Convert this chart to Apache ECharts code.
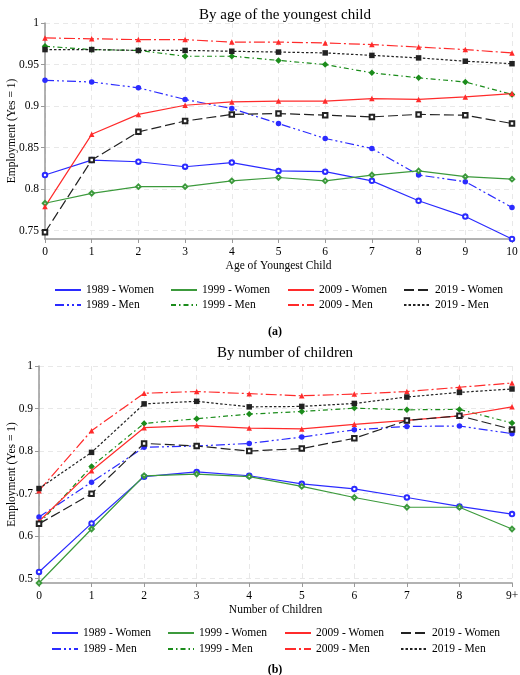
<!DOCTYPE html>
<html>
<head>
<meta charset="utf-8">
<script src="https://cdn.jsdelivr.net/npm/echarts@6/dist/echarts.min.js"></script>
<style>
html, body { margin: 0; padding: 0; background: #fff; }
#chart { width: 520px; height: 675px; }
</style>
</head>
<body>
<div id="chart"></div>
<script>
// categories
const ageCats = ['0', '1', '2', '3', '4', '5', '6', '7', '8', '9', '10'];
const childCats = ['0', '1', '2', '3', '4', '5', '6', '7', '8', '9+'];

// tick labels
const ageTicks = [0.75, 0.8, 0.85, 0.9, 0.95, 1];
const childTicks = [0.5, 0.6, 0.7, 0.8, 0.9, 1];

// (a) by age of the youngest child
const age1989Women = [0.817, 0.835, 0.833, 0.827, 0.832, 0.822, 0.821, 0.810, 0.786, 0.767, 0.740];
const age1989Men   = [0.931, 0.929, 0.922, 0.908, 0.897, 0.879, 0.861, 0.849, 0.817, 0.809, 0.778];
const age1999Women = [0.783, 0.795, 0.803, 0.803, 0.810, 0.814, 0.810, 0.817, 0.822, 0.815, 0.812];
const age1999Men   = [0.972, 0.968, 0.967, 0.960, 0.960, 0.955, 0.950, 0.940, 0.934, 0.929, 0.914];
const age2009Women = [0.779, 0.866, 0.890, 0.901, 0.905, 0.906, 0.906, 0.909, 0.908, 0.911, 0.915];
const age2009Men   = [0.982, 0.981, 0.980, 0.980, 0.977, 0.977, 0.976, 0.974, 0.971, 0.968, 0.964];
const age2019Women = [0.748, 0.835, 0.869, 0.882, 0.890, 0.891, 0.889, 0.887, 0.890, 0.889, 0.879];
const age2019Men   = [0.968, 0.968, 0.967, 0.967, 0.966, 0.965, 0.964, 0.961, 0.958, 0.954, 0.951];

// (b) by number of children
const kids1989Women = [0.516, 0.630, 0.740, 0.751, 0.742, 0.723, 0.711, 0.691, 0.670, 0.652];
const kids1989Men   = [0.645, 0.727, 0.809, 0.812, 0.818, 0.833, 0.850, 0.858, 0.859, 0.841];
const kids1999Women = [0.490, 0.617, 0.742, 0.746, 0.740, 0.717, 0.691, 0.668, 0.668, 0.617];
const kids1999Men   = [0.629, 0.764, 0.865, 0.876, 0.887, 0.893, 0.901, 0.897, 0.898, 0.866];
const kids2009Women = [0.635, 0.754, 0.855, 0.860, 0.854, 0.852, 0.863, 0.872, 0.883, 0.904];
const kids2009Men   = [0.707, 0.848, 0.936, 0.940, 0.935, 0.930, 0.934, 0.940, 0.950, 0.960];
const kids2019Women = [0.629, 0.700, 0.818, 0.812, 0.800, 0.806, 0.830, 0.872, 0.883, 0.851];
const kids2019Men   = [0.712, 0.797, 0.911, 0.917, 0.904, 0.905, 0.912, 0.927, 0.938, 0.946];

const womenNames = ['1989 - Women', '1999 - Women', '2009 - Women', '2019 - Women'];
const menNames = ['1989 - Men', '1999 - Men', '2009 - Men', '2019 - Men'];

const serif = '"Liberation Serif", "Times New Roman", serif';

// look of each line
const looks = {
    '1989 - Women': { color: '#2b2bff', symbol: 'emptyCircle', dash: 'solid' },
    '1989 - Men':   { color: '#2b2bff', symbol: 'circle', dash: [9, 3, 2, 3, 2, 3] },
    '1999 - Women': { color: '#3c9a3c', symbol: 'emptyDiamond', dash: 'solid' },
    '1999 - Men':   { color: '#1b8c1b', symbol: 'diamond', dash: [5, 3, 1.5, 3] },
    '2009 - Women': { color: '#ff2b2b', symbol: 'triangle', dash: 'solid' },
    '2009 - Men':   { color: '#ff2b2b', symbol: 'triangle', dash: [11, 3, 2, 3] },
    '2019 - Women': { color: '#222222', symbol: 'emptyRect', dash: [10, 4] },
    '2019 - Men':   { color: '#222222', symbol: 'rect', dash: [2.5, 2] }
};

function makeSeries(name, data, idx) {
    const l = looks[name];
    const empty = l.symbol.indexOf('empty') === 0;
    return {
        name: name,
        type: 'line',
        xAxisIndex: idx,
        yAxisIndex: idx,
        data: data,
        symbol: l.symbol,
        symbolSize: empty ? 4.5 : (l.symbol === 'diamond' ? 6.5 : 5.5),
        color: l.color,
        lineStyle: { width: 1.2, type: l.dash, color: l.color },
        itemStyle: { color: l.color, borderWidth: 1 },
        animation: false
    };
}

// one legend per entry so the columns line up like a table
function legendGrid(lefts, tops) {
    const out = [];
    [womenNames, menNames].forEach((names, r) => {
        names.forEach((n, c) => {
            out.push({
                data: [n],
                left: lefts[c],
                top: tops[r],
                padding: 0,
                itemWidth: 26,
                itemHeight: 10,
                selectedMode: false,
                itemStyle: { opacity: 0 },
                textStyle: { fontFamily: serif, fontSize: 11.5, color: '#000' }
            });
        });
    });
    return out;
}

function xAxisFor(cats, idx, name) {
    return {
        type: 'category',
        gridIndex: idx,
        data: cats,
        boundaryGap: false,
        name: name,
        nameLocation: 'middle',
        nameGap: 21,
        nameTextStyle: { fontFamily: serif, fontSize: 11.5, color: '#000' },
        axisLine: { lineStyle: { color: '#999', width: 1.5 } },
        axisTick: { show: true, length: 4, lineStyle: { color: '#999' } },
        axisLabel: { fontFamily: serif, fontSize: 11.5, color: '#000', margin: 7 },
        splitLine: { show: true, lineStyle: { color: '#e8e8e8', type: [5, 4] } }
    };
}

function yAxisFor(ticks, idx, min, gap) {
    return {
        type: 'value',
        gridIndex: idx,
        min: min,
        max: 1,
        name: 'Employment (Yes = 1)',
        nameLocation: 'middle',
        nameGap: gap,
        nameMoveOverlap: false,
        nameTextStyle: { fontFamily: serif, fontSize: 11.5, color: '#000' },
        axisLine: { show: true, lineStyle: { color: '#999', width: 1.5 } },
        axisTick: { show: true, length: 4, lineStyle: { color: '#999' }, customValues: ticks },
        axisLabel: { fontFamily: serif, fontSize: 11.5, color: '#000', margin: 6, customValues: ticks },
        splitLine: { show: true, lineStyle: { color: '#e8e8e8', type: [5, 4] } }
    };
}

const chart = echarts.init(document.getElementById('chart'));

const option = {
    backgroundColor: '#fff',
    title: [
        { text: 'By age of the youngest child', left: 280, top: 3, textAlign: 'center',
          textStyle: { fontFamily: serif, fontSize: 15, fontWeight: 'normal', color: '#000' } },
        { text: '(a)', left: 270, top: 321, textAlign: 'center',
          textStyle: { fontFamily: serif, fontSize: 12, fontWeight: 'bold', color: '#000' } },
        { text: 'By number of children', left: 280, top: 341, textAlign: 'center',
          textStyle: { fontFamily: serif, fontSize: 15, fontWeight: 'normal', color: '#000' } },
        { text: '(b)', left: 270, top: 659, textAlign: 'center',
          textStyle: { fontFamily: serif, fontSize: 12, fontWeight: 'bold', color: '#000' } }
    ],
    legend: legendGrid([54, 170, 287, 403], [284, 299])
        .concat(legendGrid([51, 167, 284, 400], [627, 643])),
    grid: [
        { left: 45, right: 8, top: 23, height: 216, outerBoundsMode: 'none' },
        { left: 39, right: 8, top: 366, height: 217, outerBoundsMode: 'none' }
    ],
    xAxis: [
        xAxisFor(ageCats, 0, 'Age of Youngest Child'),
        xAxisFor(childCats, 1, 'Number of Children')
    ],
    yAxis: [
        yAxisFor(ageTicks, 0, 0.74, 27),
        yAxisFor(childTicks, 1, 0.49, 21)
    ],
    series: [
        makeSeries('1989 - Women', age1989Women, 0),
        makeSeries('1989 - Men', age1989Men, 0),
        makeSeries('1999 - Women', age1999Women, 0),
        makeSeries('1999 - Men', age1999Men, 0),
        makeSeries('2009 - Women', age2009Women, 0),
        makeSeries('2009 - Men', age2009Men, 0),
        makeSeries('2019 - Women', age2019Women, 0),
        makeSeries('2019 - Men', age2019Men, 0),
        makeSeries('1989 - Women', kids1989Women, 1),
        makeSeries('1989 - Men', kids1989Men, 1),
        makeSeries('1999 - Women', kids1999Women, 1),
        makeSeries('1999 - Men', kids1999Men, 1),
        makeSeries('2009 - Women', kids2009Women, 1),
        makeSeries('2009 - Men', kids2009Men, 1),
        makeSeries('2019 - Women', kids2019Women, 1),
        makeSeries('2019 - Men', kids2019Men, 1)
    ]
};

chart.setOption(option);
</script>
</body>
</html>
